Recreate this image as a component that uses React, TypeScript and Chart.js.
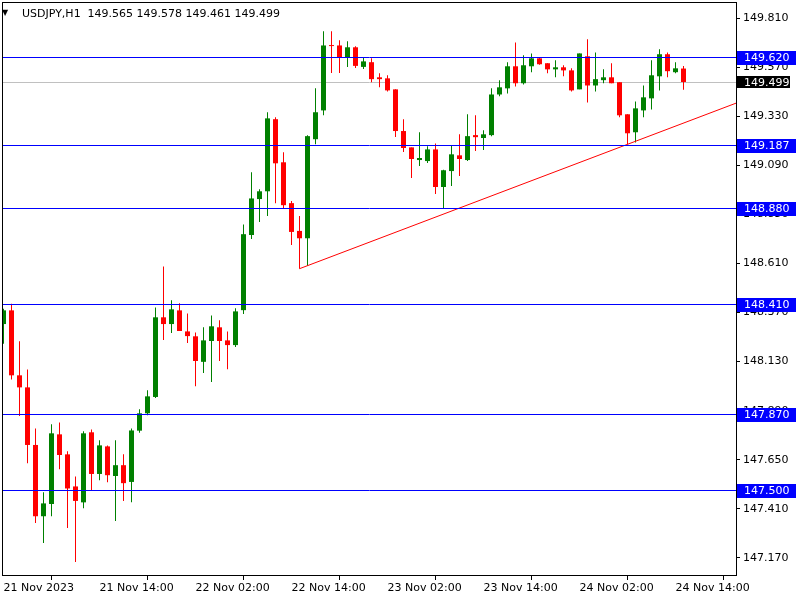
import React, { useEffect, useRef } from "react";
import { Chart, registerables } from "chart.js";

Chart.register(...registerables);

const symbol = "USDJPY";
const timeframe = "H1";

// hourly candles from 21 Nov 2023 02:00
const opens = [
  148.314, 148.381, 148.063, 148.004, 147.722, 147.373, 147.433, 147.774, 147.676, 147.519,
  147.441, 147.784, 147.580, 147.715, 147.570, 147.623, 147.541, 147.792, 147.877, 147.957,
  148.347, 148.314, 148.381, 148.278, 148.254, 148.129, 148.231, 148.298, 148.234, 148.211,
  148.382, 148.750, 148.926, 148.964, 149.317, 149.106, 148.906, 148.770, 148.734, 149.219,
  149.360, 149.679, 149.678, 149.620, 149.669, 149.573, 149.596, 149.522, 149.517, 149.463,
  149.259, 149.179, 149.117, 149.112, 149.169, 148.985, 149.063, 149.140, 149.117, 149.239,
  149.225, 149.239, 149.438, 149.468, 149.576, 149.493, 149.576, 149.615, 149.591, 149.561,
  149.571, 149.556, 149.463, 149.625, 149.482, 149.508, 149.522, 149.498, 149.341, 149.253,
  149.360, 149.419, 149.527, 149.635, 149.547, 149.565,
];
const highs = [
  148.389, 148.414, 148.230, 148.092, 147.803, 147.490, 147.823, 147.832, 147.691, 147.568,
  147.789, 147.798, 147.745, 147.720, 147.745, 147.676, 147.803, 147.897, 147.990, 148.395,
  148.596, 148.431, 148.416, 148.366, 148.273, 148.298, 148.356, 148.332, 148.278, 148.391,
  148.802, 149.057, 148.974, 149.351, 149.326, 149.155, 148.916, 148.843, 149.238, 149.468,
  149.747, 149.747, 149.703, 149.698, 149.674, 149.616, 149.615, 149.542, 149.532, 149.463,
  149.317, 149.179, 149.253, 149.184, 149.198, 149.069, 149.189, 149.243, 149.341, 149.336,
  149.263, 149.468, 149.508, 149.596, 149.693, 149.630, 149.639, 149.617, 149.591, 149.605,
  149.581, 149.566, 149.639, 149.708, 149.644, 149.561, 149.591, 149.498, 149.341, 149.404,
  149.482, 149.605, 149.659, 149.644, 149.596, 149.578,
];
const lows = [
  148.218, 148.043, 147.864, 147.632, 147.340, 147.242, 147.373, 147.603, 147.316, 147.149,
  147.412, 147.500, 147.549, 147.539, 147.350, 147.448, 147.441, 147.782, 147.867, 147.952,
  148.236, 148.270, 148.280, 148.221, 148.010, 148.074, 148.030, 148.133, 148.093, 148.202,
  148.363, 148.731, 148.814, 148.843, 148.906, 148.882, 148.701, 148.585, 148.600, 149.194,
  149.336, 149.543, 149.543, 149.573, 149.568, 149.563, 149.498, 149.473, 149.453, 149.230,
  149.156, 149.029, 149.088, 149.102, 148.951, 148.882, 148.990, 149.039, 149.112, 149.161,
  149.166, 149.234, 149.429, 149.443, 149.477, 149.487, 149.547, 149.584, 149.542, 149.522,
  149.527, 149.453, 149.463, 149.399, 149.453, 149.493, 149.493, 149.326, 149.194, 149.203,
  149.326, 149.365, 149.458, 149.522, 149.542, 149.461,
];
const closes = [
  148.381, 148.063, 148.004, 147.722, 147.373, 147.436, 147.779, 147.673, 147.509, 147.448,
  147.779, 147.580, 147.720, 147.574, 147.623, 147.535, 147.793, 147.877, 147.960, 148.347,
  148.314, 148.386, 148.280, 148.255, 148.133, 148.234, 148.303, 148.231, 148.211, 148.376,
  148.754, 148.929, 148.964, 149.321, 149.101, 148.896, 148.765, 148.734, 149.234, 149.351,
  149.678, 149.675, 149.620, 149.669, 149.578, 149.600, 149.513, 149.513, 149.458, 149.259,
  149.176, 149.122, 149.127, 149.169, 148.985, 149.067, 149.145, 149.122, 149.234, 149.229,
  149.243, 149.438, 149.473, 149.576, 149.493, 149.581, 149.615, 149.586, 149.561, 149.571,
  149.556, 149.458, 149.639, 149.482, 149.513, 149.522, 149.493, 149.336, 149.248, 149.370,
  149.424, 149.532, 149.635, 149.552, 149.566, 149.499,
];

const timeTickIndex = [0, 12, 24, 36, 48, 60, 72, 84];
const timeTickLabels = [
  "21 Nov 2023", "21 Nov 14:00", "22 Nov 02:00", "22 Nov 14:00",
  "23 Nov 02:00", "23 Nov 14:00", "24 Nov 02:00", "24 Nov 14:00",
];
const priceTicks = [
  147.17, 147.41, 147.65, 147.89, 148.13, 148.37, 148.61, 148.85, 149.09, 149.33, 149.57, 149.81,
];

const levelPrices = [149.62, 149.187, 148.88, 148.41, 147.87, 147.5];
const bidPrice = 149.499;

// trend line anchors (bar index, price)
const trendStart = { x: 37, y: 148.585 };
const trendThrough = { x: 78, y: 149.194 };

const X_MIN = -0.1875;
const X_MAX = 91.6875;
const Y_MIN = 147.08047;
const Y_MAX = 149.89075;

const UP = "#008000";
const DOWN = "#ff0000";
const LEVEL = "#0000ff";
const FONT = "'DejaVu Sans'";

function rowOf(chart: any, v: number) {
  return Math.floor(chart.scales.y.getPixelForValue(v));
}

function hLine(chart: any, v: number, color: string) {
  const ctx = chart.ctx as CanvasRenderingContext2D;
  const area = chart.chartArea;
  const py = rowOf(chart, v) + 0.5;
  ctx.save();
  ctx.strokeStyle = color;
  ctx.lineWidth = 1;
  ctx.beginPath();
  ctx.moveTo(area.left, py);
  ctx.lineTo(area.right, py);
  ctx.stroke();
  ctx.restore();
}

const levels = {
  id: "levels",
  beforeDatasetsDraw(chart: any) {
    hLine(chart, bidPrice, "#c0c0c0");
  },
  afterDatasetsDraw(chart: any) {
    levelPrices.forEach((v) => hLine(chart, v, LEVEL));
  },
};

const overlay = {
  id: "overlay",
  afterDraw(chart: any) {
    const ctx = chart.ctx as CanvasRenderingContext2D;
    const area = chart.chartArea;
    ctx.save();
    ctx.strokeStyle = "#000";
    ctx.lineWidth = 1;
    ctx.strokeRect(area.left + 0.5, area.top + 0.5, area.right - area.left - 1, area.bottom - area.top - 1);

    ctx.font = `11px ${FONT}`;
    ctx.textAlign = "left";
    ctx.textBaseline = "middle";
    const box = (v: number, bg: string, w: number, h: number) => {
      const py = rowOf(chart, v);
      ctx.fillStyle = bg;
      ctx.fillRect(area.right, py - 6, w, h);
      ctx.fillStyle = "#fff";
      ctx.fillText(v.toFixed(3), area.right + 7, py + 1.5);
    };
    levelPrices.forEach((v) => box(v, LEVEL, 59, 14));
    box(bidPrice, "#000000", 53, 12);

    const last = opens.length - 1;
    const title = `${symbol},${timeframe}  ${opens[last].toFixed(3)} ${highs[last].toFixed(3)} ${lows[last].toFixed(3)} ${closes[last].toFixed(3)}`;
    ctx.fillStyle = "#000";
    ctx.textBaseline = "alphabetic";
    ctx.fillText(title, 22, 17);
    ctx.font = `8px ${FONT}`;
    ctx.fillText("▼", 2, 15);
    ctx.restore();
  },
};

export default function App() {
  const ref = useRef<HTMLCanvasElement | null>(null);

  useEffect(() => {
    if (!ref.current) return;
    const colors = opens.map((o, i) => (closes[i] >= o ? UP : DOWN));
    const slope = (trendThrough.y - trendStart.y) / (trendThrough.x - trendStart.x);
    const trendEnd = { x: X_MAX, y: trendStart.y + (X_MAX - trendStart.x) * slope };

    const chart = new Chart(ref.current, {
      type: "bar",
      data: {
        datasets: [
          {
            type: "line" as const,
            data: [trendStart, trendEnd],
            borderColor: "#ff0000",
            borderWidth: 1,
            pointRadius: 0,
            order: 0,
          },
          {
            type: "bar" as const,
            data: opens.map((o, i) => ({ x: i, y: [o, closes[i]] })) as any,
            backgroundColor: colors,
            borderWidth: 0,
            barThickness: 5,
            grouped: false,
            minBarLength: 1,
            inflateAmount: 0,
            order: 1,
          },
          {
            type: "bar" as const,
            data: lows.map((l, i) => ({ x: i, y: [l, highs[i]] })) as any,
            backgroundColor: colors,
            borderWidth: 0,
            barThickness: 1,
            grouped: false,
            inflateAmount: 0,
            order: 2,
          },
        ],
      },
      options: {
        responsive: false,
        maintainAspectRatio: false,
        animation: false,
        layout: { padding: { left: 2, top: 2, right: 0, bottom: 0 } },
        plugins: {
          legend: { display: false },
          tooltip: { enabled: false },
        },
        scales: {
          x: {
            type: "linear",
            min: X_MIN,
            max: X_MAX,
            offset: false,
            border: { display: false },
            grid: { drawOnChartArea: false, drawTicks: true, tickLength: 4, color: "#000", lineWidth: 1 },
            afterBuildTicks: (s: any) => {
              s.ticks = timeTickIndex.map((v) => ({ value: v }));
            },
            afterFit: (s: any) => {
              s.height = 24;
              s.paddingLeft = 0;
              s.paddingRight = 0;
              s.paddingTop = 0;
              s.paddingBottom = 0;
            },
            ticks: {
              autoSkip: false,
              maxRotation: 0,
              minRotation: 0,
              align: "start",
              padding: 2,
              color: "#000",
              font: { family: "DejaVu Sans", size: 11 },
              callback: (v: any) => {
                const k = timeTickIndex.indexOf(Number(v));
                return k >= 0 ? timeTickLabels[k] : "";
              },
            },
          },
          y: {
            type: "linear",
            position: "right",
            min: Y_MIN,
            max: Y_MAX,
            border: { display: false },
            grid: { drawOnChartArea: false, drawTicks: true, tickLength: 3, color: "#000", lineWidth: 1 },
            afterBuildTicks: (s: any) => {
              s.ticks = priceTicks.map((v) => ({ value: v }));
            },
            afterFit: (s: any) => {
              s.width = 63;
              s.paddingLeft = 0;
              s.paddingRight = 0;
              s.paddingTop = 0;
              s.paddingBottom = 0;
            },
            ticks: {
              padding: 3,
              color: "#000",
              font: { family: "DejaVu Sans", size: 11 },
              callback: (v: any) => Number(v).toFixed(3),
            },
          },
        },
      } as any,
      plugins: [levels, overlay],
    });
    return () => chart.destroy();
  }, []);

  return (
    <div style={{ position: "fixed", left: 0, top: 0, width: 800, height: 600, background: "#fff" }}>
      <canvas ref={ref} width={800} height={600} style={{ display: "block", width: 800, height: 600 }} />
    </div>
  );
}
